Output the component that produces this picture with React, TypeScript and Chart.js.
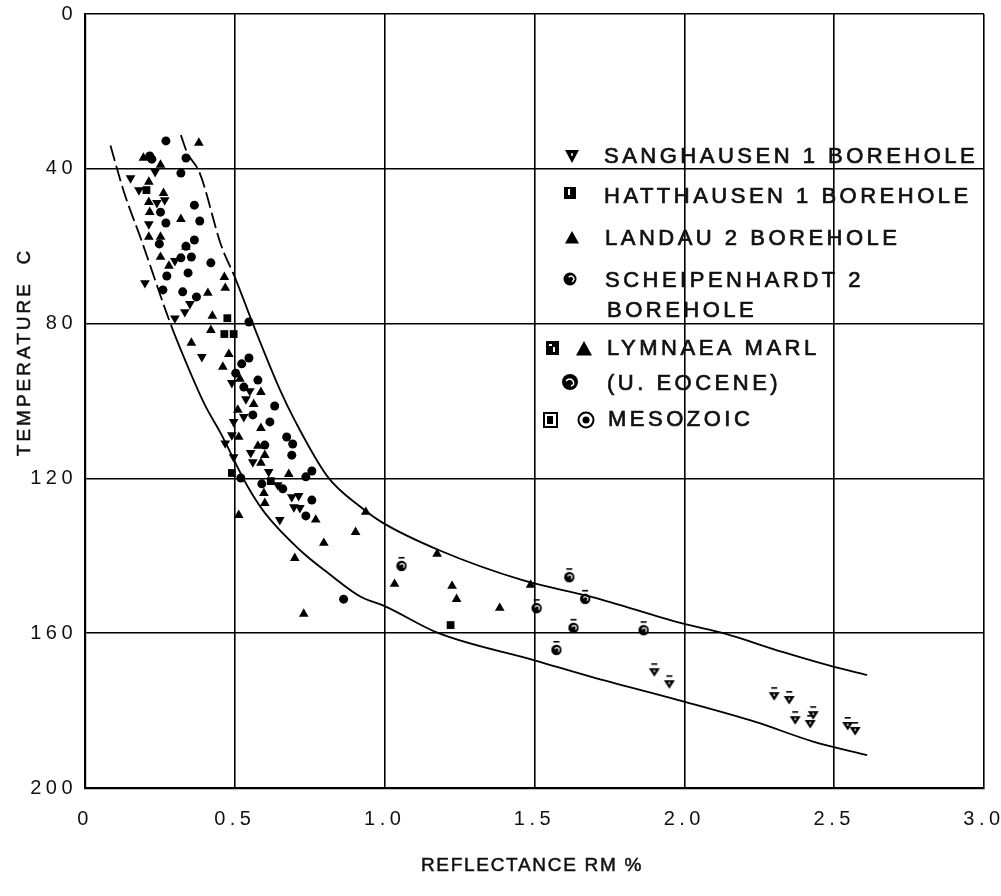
import React, { useEffect, useRef } from "react";
import { Chart, registerables } from "chart.js";
Chart.register(...registerables);

// ---------- data ----------
const xTicks = [0, 0.5, 1, 1.5, 2, 2.5, 3];
const xTickLabels = ["0", "0.5", "1.0", "1.5", "2.0", "2.5", "3.0"];
const yTicks = [0, 40, 80, 120, 160, 200];

const xTitle = "REFLECTANCE RM %";
const yTitle = "TEMPERATURE  C";

const legendTexts = [
  "SANGHAUSEN 1 BOREHOLE",
  "HATTHAUSEN 1 BOREHOLE",
  "LANDAU 2 BOREHOLE",
  "SCHEIPENHARDT 2",
  "BOREHOLE",
  "LYMNAEA MARL",
  "(U. EOCENE)",
  "MESOZOIC",
];

// Sanghausen 1 borehole (inverted triangles)
const sanghausen: [number, number][] = [
  [0.234, 40.8], [0.152, 42.4], [0.18, 45.5], [0.24, 48.8], [0.266, 48.1],
  [0.213, 54.3], [0.3, 63.8], [0.2, 69.5], [0.35, 74.9], [0.333, 77.0],
  [0.3, 78.6], [0.39, 88.6], [0.49, 95.3], [0.55, 97.4], [0.537, 99.5],
  [0.53, 104.1], [0.496, 105.4], [0.49, 108.8], [0.468, 110.9], [0.496, 114.5],
  [0.553, 113.4], [0.56, 115.8], [0.613, 118.3], [0.643, 121.7], [0.69, 124.8],
  [0.713, 124.5], [0.697, 127.4], [0.717, 127.6], [0.65, 130.7],
];

// Hatthausen 1 borehole (squares)
const hatthausen: [number, number][] = [
  [0.205, 45.5], [0.475, 78.6], [0.465, 82.7], [0.496, 82.7],
  [0.49, 118.6], [0.62, 120.7], [1.22, 157.9],
];

// Landau 2 borehole (triangles)
const landau: [number, number][] = [
  [0.38, 33.3], [0.195, 37.2], [0.252, 39.0], [0.213, 43.4], [0.262, 46.3],
  [0.213, 48.6], [0.216, 51.2], [0.32, 53.0], [0.213, 57.6], [0.252, 57.6],
  [0.337, 60.2], [0.252, 62.8], [0.28, 65.1], [0.465, 68.0], [0.468, 70.8],
  [0.41, 72.1], [0.425, 78.0], [0.42, 81.7], [0.355, 85.0], [0.48, 87.9],
  [0.46, 91.2], [0.517, 94.3], [0.587, 97.7], [0.563, 100.8], [0.51, 102.3],
  [0.587, 107.0], [0.513, 109.3], [0.577, 111.6], [0.6, 114.0], [0.587, 116.0],
  [0.68, 118.9], [0.597, 123.8], [0.6, 126.4], [0.77, 130.7], [0.513, 129.5],
  [0.903, 133.9], [0.797, 136.7], [0.7, 140.6], [0.937, 128.7], [0.73, 155.0],
  [1.175, 139.5], [1.033, 147.3], [1.225, 147.8], [1.24, 151.2], [1.384, 153.5],
  [1.487, 147.5],
];

// Scheipenhardt 2 borehole (circles)
const scheipenhardt: [number, number][] = [
  [0.27, 32.8], [0.216, 36.7], [0.223, 37.5], [0.337, 37.2], [0.32, 41.1],
  [0.365, 49.4], [0.252, 51.2], [0.27, 54.0], [0.383, 53.5], [0.365, 58.4],
  [0.337, 60.0], [0.248, 59.4], [0.32, 63.0], [0.355, 62.8], [0.42, 64.3],
  [0.273, 67.7], [0.344, 66.9], [0.26, 71.3], [0.326, 71.8], [0.372, 73.1],
  [0.547, 79.6], [0.523, 90.4], [0.547, 88.9], [0.503, 92.8], [0.577, 94.6],
  [0.53, 96.4], [0.633, 101.3], [0.56, 103.6], [0.617, 105.4], [0.673, 109.3],
  [0.693, 111.1], [0.6, 111.4], [0.69, 114.0], [0.737, 119.6], [0.757, 118.1],
  [0.52, 119.9], [0.59, 121.4], [0.66, 122.7], [0.757, 125.6], [0.737, 129.7],
  [0.863, 151.2],
];

// Lymnaea marl (U. Eocene) marked circles
const eoceneCircles: [number, number][] = [
  [1.056, 142.1], [1.507, 153.0], [1.616, 145.0], [1.669, 150.6],
  [1.63, 158.1], [1.573, 163.8], [1.864, 158.7],
];

// Lymnaea marl (U. Eocene) marked inverted triangles
const eoceneTriangles: [number, number][] = [
  [1.9, 169.3], [1.95, 172.4], [2.3, 175.5], [2.35, 176.5], [2.37, 181.7],
  [2.43, 180.4], [2.42, 182.7], [2.545, 183.2], [2.57, 184.5],
];

// envelope curves
const upperCurve: [number, number][] = [
  [0.32, 31.3], [0.34, 35.7], [0.383, 41.1], [0.454, 59.7], [0.5, 68.0],
  [0.56, 80.0], [0.65, 97.0], [0.7, 105.0], [0.81, 119.6], [0.92, 127.4],
  [0.99, 131.3], [1.18, 138.5], [1.46, 146.3], [1.69, 150.6], [1.99, 157.4],
  [2.13, 160.0], [2.33, 164.9], [2.5, 168.7], [2.61, 170.8],
];
const lowerCurve: [number, number][] = [
  [0.085, 34.0], [0.13, 46.0], [0.188, 58.4], [0.287, 80.4], [0.348, 92.0],
  [0.4, 101.0], [0.454, 108.5], [0.54, 121.7], [0.6, 128.9], [0.717, 138.5],
  [0.81, 144.4], [0.92, 150.6], [1.0, 153.0], [1.18, 160.0], [1.5, 167.0],
  [1.69, 171.3], [1.98, 177.3], [2.24, 183.0], [2.43, 188.0], [2.61, 191.5],
];

// ---------- helpers ----------
const FONT = "'Liberation Sans', Arial, Helvetica, sans-serif";
const toXY = (arr: [number, number][]) => arr.map(([x, y]) => ({ x, y }));

function makeEoceneCircle(): HTMLCanvasElement {
  const c = document.createElement("canvas");
  c.width = 14;
  c.height = 18;
  const g = c.getContext("2d")!;
  g.fillStyle = "#000";
  g.beginPath();
  g.arc(7, 11, 5.2, 0, Math.PI * 2);
  g.fill();
  g.strokeStyle = "#fff";
  g.lineWidth = 1.2;
  g.beginPath();
  g.arc(7.5, 11, 2.2, -Math.PI * 0.9, Math.PI * 0.3);
  g.stroke();
  g.fillStyle = "#000";
  g.fillRect(4, 2, 6, 1.6);
  return c;
}

function makeEoceneTri(): HTMLCanvasElement {
  const c = document.createElement("canvas");
  c.width = 14;
  c.height = 18;
  const g = c.getContext("2d")!;
  g.fillStyle = "#000";
  g.beginPath();
  g.moveTo(1.5, 8);
  g.lineTo(12.5, 8);
  g.lineTo(7, 16.5);
  g.closePath();
  g.fill();
  g.fillStyle = "#fff";
  g.fillRect(6.4, 9.5, 1.2, 2.5);
  g.fillStyle = "#000";
  g.fillRect(4, 3, 6, 1.6);
  return c;
}

function triDown(ctx: CanvasRenderingContext2D, x: number, y: number, s: number) {
  ctx.beginPath();
  ctx.moveTo(x - s / 2, y - s * 0.42);
  ctx.lineTo(x + s / 2, y - s * 0.42);
  ctx.lineTo(x, y + s * 0.5);
  ctx.closePath();
  ctx.fill();
}
function triUp(ctx: CanvasRenderingContext2D, x: number, y: number, s: number) {
  ctx.beginPath();
  ctx.moveTo(x - s / 2, y + s * 0.4);
  ctx.lineTo(x + s / 2, y + s * 0.4);
  ctx.lineTo(x, y - s * 0.5);
  ctx.closePath();
  ctx.fill();
}

function boldText(ctx: CanvasRenderingContext2D, t: string, x: number, y: number) {
  ctx.fillText(t, x, y);
  ctx.strokeText(t, x, y);
}

const decorPlugin = {
  id: "decor",
  beforeUpdate(chart: any) {
    (chart.ctx as any).letterSpacing = "4.5px";
  },
  beforeDraw(chart: any) {
    (chart.ctx as any).letterSpacing = "4.5px";
  },
  afterDraw(chart: any) {
    const ctx: CanvasRenderingContext2D = chart.ctx;
    ctx.save();
    ctx.fillStyle = "#111";
    ctx.strokeStyle = "#111";
    ctx.lineWidth = 0.5;

    // axis titles
    (ctx as any).letterSpacing = "1.7px";
    ctx.font = `19px ${FONT}`;
    ctx.textAlign = "center";
    ctx.textBaseline = "middle";
    boldText(ctx, xTitle, 532, 866);

    (ctx as any).letterSpacing = "3px";
    ctx.save();
    ctx.translate(25, 352);
    ctx.rotate(-Math.PI / 2);
    boldText(ctx, yTitle, 0, 0);
    ctx.restore();

    // legend text
    (ctx as any).letterSpacing = "3.5px";
    ctx.font = `22px ${FONT}`;
    ctx.textAlign = "left";
    ctx.lineWidth = 0.7;
    const textPos = [
      [604, 157], [604, 197], [605, 239], [605, 281],
      [607, 311], [607, 349], [607, 384], [608, 420],
    ];
    legendTexts.forEach((t, i) => boldText(ctx, t, textPos[i][0], textPos[i][1]));

    // legend symbols
    ctx.fillStyle = "#000";
    triDown(ctx, 572, 156, 14);
    ctx.fillStyle = "#fff";
    ctx.fillRect(571.3, 153, 1.4, 3);

    ctx.fillStyle = "#000";
    ctx.fillRect(564, 187, 12, 12);
    ctx.fillStyle = "#fff";
    ctx.fillRect(568, 189, 2, 6);

    ctx.fillStyle = "#000";
    triUp(ctx, 572, 238, 14);

    ctx.beginPath();
    ctx.arc(570, 279, 6.5, 0, Math.PI * 2);
    ctx.fill();
    ctx.strokeStyle = "#fff";
    ctx.lineWidth = 1.3;
    ctx.beginPath();
    ctx.arc(571, 279, 2.8, -Math.PI * 0.8, Math.PI * 0.4);
    ctx.stroke();

    ctx.fillStyle = "#000";
    ctx.fillRect(546, 341, 13, 14);
    ctx.fillStyle = "#fff";
    ctx.fillRect(549, 344, 3, 2);
    ctx.fillRect(553, 347, 2, 5);
    ctx.fillStyle = "#000";
    triUp(ctx, 584, 349, 16);

    ctx.beginPath();
    ctx.arc(570, 382, 8, 0, Math.PI * 2);
    ctx.fill();
    ctx.strokeStyle = "#fff";
    ctx.lineWidth = 1.5;
    ctx.beginPath();
    ctx.moveTo(566, 381);
    ctx.quadraticCurveTo(570, 377, 573, 381);
    ctx.quadraticCurveTo(575, 385, 571, 386);
    ctx.stroke();

    ctx.strokeStyle = "#000";
    ctx.lineWidth = 2;
    ctx.strokeRect(544, 413, 13, 14);
    ctx.fillRect(547, 416, 6, 8);
    ctx.beginPath();
    ctx.arc(586, 420, 7.5, 0, Math.PI * 2);
    ctx.stroke();
    ctx.beginPath();
    ctx.arc(586, 420, 3.5, 0, Math.PI * 2);
    ctx.fill();

    ctx.restore();
  },
};

export default function App() {
  const ref = useRef<HTMLCanvasElement | null>(null);

  useEffect(() => {
    document.body.style.margin = "0";
    const canvas = ref.current!;
    const eoC = makeEoceneCircle();
    const eoT = makeEoceneTri();
    const dash = (limit: number) => (c: any) =>
      c.p0.parsed.x < limit ? [16, 5] : undefined;

    const chart = new Chart(canvas, {
      type: "scatter",
      data: {
        datasets: [
          {
            label: "upper",
            type: "line" as any,
            data: toXY(upperCurve),
            borderColor: "#000",
            borderWidth: 1.8,
            pointRadius: 0,
            fill: false,
            cubicInterpolationMode: "monotone",
            segment: { borderDash: dash(0.5) },
          } as any,
          {
            label: "lower",
            type: "line" as any,
            data: toXY(lowerCurve),
            borderColor: "#000",
            borderWidth: 1.8,
            pointRadius: 0,
            fill: false,
            cubicInterpolationMode: "monotone",
            segment: { borderDash: dash(0.2) },
          } as any,
          {
            label: legendTexts[0],
            data: toXY(sanghausen),
            pointStyle: "triangle",
            rotation: 180,
            pointRadius: 5.6,
            backgroundColor: "#000",
            borderColor: "#000",
            borderWidth: 0,
          },
          {
            label: legendTexts[1],
            data: toXY(hatthausen),
            pointStyle: "rect",
            pointRadius: 5.5,
            backgroundColor: "#000",
            borderColor: "#000",
            borderWidth: 0,
          },
          {
            label: legendTexts[2],
            data: toXY(landau),
            pointStyle: "triangle",
            pointRadius: 5.6,
            backgroundColor: "#000",
            borderColor: "#000",
            borderWidth: 0,
          },
          {
            label: legendTexts[3],
            data: toXY(scheipenhardt),
            pointStyle: "circle",
            pointRadius: 4.5,
            backgroundColor: "#000",
            borderColor: "#000",
            borderWidth: 0,
          },
          {
            label: "eocene circles",
            data: toXY(eoceneCircles),
            pointStyle: eoC as any,
            pointRadius: 6,
          },
          {
            label: "eocene triangles",
            data: toXY(eoceneTriangles),
            pointStyle: eoT as any,
            pointRadius: 6,
          },
        ],
      },
      options: {
        responsive: false,
        animation: false,
        events: [],
        layout: { padding: { top: 14, right: 17, left: 0, bottom: 0 } },
        plugins: {
          legend: { display: false },
          tooltip: { enabled: false },
        },
        scales: {
          x: {
            type: "linear",
            min: 0,
            max: 3,
            afterFit: (s: any) => {
              s.height = 108;
              s.paddingLeft = 0;
              s.paddingRight = 0;
            },
            afterBuildTicks: (s: any) => {
              s.ticks = xTicks.map((v) => ({ value: v }));
            },
            ticks: {
              color: "#111",
              padding: 19,
              font: { family: FONT, size: 20 },
              callback: (v: any) => {
                const i = xTicks.indexOf(Number(v));
                return i >= 0 ? xTickLabels[i] : "";
              },
            },
            grid: { color: "#000", lineWidth: 1.6, drawTicks: false },
            border: { display: true, color: "#000", width: 2.2 },
          },
          y: {
            type: "linear",
            reverse: true,
            min: 0,
            max: 200,
            afterFit: (s: any) => {
              s.width = 85;
              s.paddingTop = 0;
              s.paddingBottom = 0;
            },
            afterBuildTicks: (s: any) => {
              s.ticks = yTicks.map((v) => ({ value: v }));
            },
            ticks: {
              color: "#111",
              padding: 8,
              font: { family: FONT, size: 20 },
              callback: (v: any) => String(v),
            },
            grid: { color: "#000", lineWidth: 1.6, drawTicks: false },
            border: { display: true, color: "#000", width: 2.2 },
          },
        },
      },
      plugins: [decorPlugin as any],
    });

    return () => chart.destroy();
  }, []);

  return (
    <div style={{ position: "absolute", left: 0, top: 0, width: 1001, height: 896, background: "#fff" }}>
      <canvas ref={ref} width={1001} height={896} style={{ display: "block" }} />
    </div>
  );
}
